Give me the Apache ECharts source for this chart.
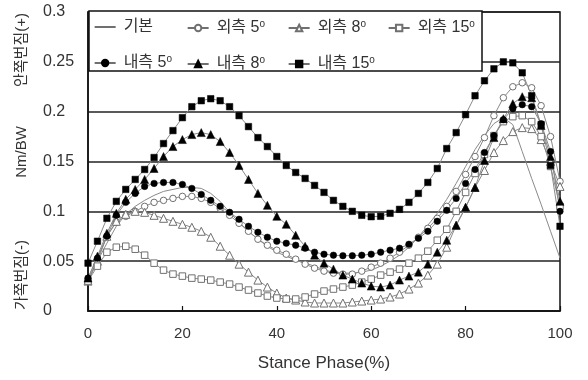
<!DOCTYPE html>
<html>
<head>
<meta charset="utf-8">
<title>Stance Phase</title>
<script src="https://cdn.jsdelivr.net/npm/echarts@6/dist/echarts.min.js"></script>
<style>
  body { margin: 0; background: #fff; }
  #main { width: 588px; height: 380px; }
</style>
</head>
<body>
<div id="main"></div>
<script type="text/javascript">
// stance phase (%) sample positions
var stance = [0, 2, 4, 6, 8, 10, 12, 14, 16, 18, 20, 22, 24, 26, 28, 30, 32, 34, 36, 38, 40,
  42, 44, 46, 48, 50, 52, 54, 56, 58, 60, 62, 64, 66, 68, 70, 72, 74, 76, 78, 80,
  82, 84, 86, 88, 90, 92, 94, 96, 98, 100];

// 기본
var base = [0.030, 0.050, 0.068, 0.085, 0.097, 0.105, 0.111, 0.116, 0.120, 0.122, 0.124,
  0.124, 0.123, 0.118, 0.110, 0.099, 0.089, 0.080, 0.072, 0.065, 0.059,
  0.055, 0.051, 0.048, 0.045, 0.041, 0.039, 0.038, 0.038, 0.039, 0.041,
  0.045, 0.050, 0.056, 0.064, 0.074, 0.086, 0.098, 0.112, 0.128, 0.145,
  0.162, 0.176, 0.188, 0.194, 0.187, 0.160, 0.133, 0.107, 0.080, 0.053];
// 외측 5
var out5 = [0.030, 0.052, 0.075, 0.089, 0.095, 0.100, 0.105, 0.109, 0.111, 0.113, 0.115,
  0.115, 0.113, 0.109, 0.103, 0.096, 0.088, 0.080, 0.072, 0.066, 0.061,
  0.057, 0.052, 0.047, 0.043, 0.040, 0.038, 0.037, 0.037, 0.040, 0.044,
  0.048, 0.053, 0.059, 0.066, 0.074, 0.083, 0.093, 0.105, 0.120, 0.137,
  0.155, 0.174, 0.196, 0.214, 0.225, 0.229, 0.224, 0.206, 0.175, 0.130];
// 외측 8
var out8 = [0.030, 0.050, 0.075, 0.090, 0.097, 0.100, 0.099, 0.096, 0.093, 0.090, 0.087,
  0.084, 0.080, 0.074, 0.065, 0.056, 0.047, 0.039, 0.031, 0.024, 0.018,
  0.013, 0.011, 0.009, 0.008, 0.008, 0.008, 0.008, 0.009, 0.010, 0.011,
  0.012, 0.014, 0.017, 0.022, 0.028, 0.036, 0.047, 0.064, 0.086, 0.104,
  0.124, 0.141, 0.159, 0.171, 0.180, 0.184, 0.183, 0.172, 0.150, 0.125];
// 외측 15
var out15 = [0.030, 0.045, 0.059, 0.064, 0.065, 0.062, 0.056, 0.048, 0.041, 0.037, 0.035,
  0.033, 0.032, 0.031, 0.029, 0.027, 0.024, 0.021, 0.018, 0.015, 0.013,
  0.012, 0.012, 0.014, 0.017, 0.020, 0.022, 0.024, 0.026, 0.029, 0.032,
  0.036, 0.039, 0.042, 0.048, 0.053, 0.060, 0.071, 0.082, 0.100, 0.119,
  0.138, 0.157, 0.176, 0.190, 0.195, 0.196, 0.190, 0.175, 0.145, 0.105];
// 내측 5
var in5 = [0.033, 0.053, 0.075, 0.096, 0.109, 0.118, 0.125, 0.128, 0.129, 0.129, 0.127,
  0.123, 0.117, 0.111, 0.105, 0.099, 0.092, 0.085, 0.079, 0.074, 0.070,
  0.068, 0.066, 0.063, 0.059, 0.057, 0.056, 0.0555, 0.0555, 0.056, 0.057,
  0.059, 0.061, 0.063, 0.067, 0.073, 0.080, 0.090, 0.101, 0.113, 0.128,
  0.142, 0.159, 0.176, 0.192, 0.203, 0.207, 0.205, 0.188, 0.160, 0.100];
// 내측 8
var in8 = [0.033, 0.055, 0.078, 0.098, 0.112, 0.122, 0.132, 0.143, 0.155, 0.165, 0.172,
  0.177, 0.179, 0.177, 0.170, 0.159, 0.146, 0.132, 0.118, 0.106, 0.095,
  0.087, 0.076, 0.065, 0.056, 0.048, 0.042, 0.036, 0.032, 0.028, 0.025,
  0.024, 0.026, 0.031, 0.035, 0.039, 0.047, 0.059, 0.071, 0.086, 0.104,
  0.124, 0.151, 0.174, 0.193, 0.208, 0.215, 0.214, 0.186, 0.155, 0.110];
// 내측 15
var in15 = [0.048, 0.070, 0.093, 0.110, 0.122, 0.132, 0.142, 0.154, 0.168, 0.181, 0.194,
  0.205, 0.211, 0.213, 0.211, 0.205, 0.196, 0.185, 0.174, 0.165, 0.155,
  0.146, 0.139, 0.133, 0.126, 0.119, 0.111, 0.105, 0.100, 0.096, 0.0946,
  0.095, 0.098, 0.102, 0.109, 0.118, 0.129, 0.143, 0.163, 0.179, 0.197,
  0.216, 0.231, 0.243, 0.250, 0.249, 0.239, 0.216, 0.187, 0.146, 0.085];

var xTicks = [0, 20, 40, 60, 80, 100];
var yTicks = [0, 0.05, 0.1, 0.15, 0.2, 0.25, 0.3];

var FONT = '"Liberation Sans", "Noto Sans CJK KR", sans-serif';

function pairs(arr) {
    return stance.map(function (x, i) { return [x, arr[i]]; });
}

function mkSeries(name, arr, symbol, filled) {
    return {
        name: name,
        type: 'line',
        data: pairs(arr),
        symbol: symbol,
        symbolSize: symbol === 'triangle' ? 8 : 6.5,
        showSymbol: symbol !== 'none',
        lineStyle: { color: '#8a8a8a', width: 1 },
        itemStyle: filled
            ? { color: '#000', borderColor: '#000', borderWidth: 0.5 }
            : { color: '#fff', borderColor: '#707070', borderWidth: 1 },
        emphasis: { disabled: true },
        animation: false
    };
}

var legendCommon = {
    orient: 'vertical',
    top: 19,
    padding: 0,
    itemWidth: 21,
    itemHeight: 8,
    itemGap: 19,
    z: 20,
    lineStyle: { color: '#222', width: 1.3 },
    textStyle: {
        fontFamily: FONT,
        fontSize: 16,
        color: '#333',
        padding: [0, 0, 0, 3],
        rich: {
            t: { fontFamily: FONT, fontSize: 16, color: '#333', lineHeight: 18 },
            d: { fontFamily: FONT, fontSize: 10, color: '#333', lineHeight: 10, verticalAlign: 'top' }
        }
    },
    formatter: function (name) {
        if (name === '기본') return '{t|' + name + '}';
        return '{t|' + name + '}{d|o}';
    }
};

function mkLegend(left, names) {
    var l = Object.assign({}, legendCommon);
    l.left = left;
    l.data = names;
    return l;
}

var myChart = echarts.init(document.getElementById('main'));

var option = {
    backgroundColor: '#fff',
    animation: false,
    grid: {
        left: 88, right: 28, top: 12, bottom: 69,
        show: true, borderColor: '#111', borderWidth: 1.5
    },
    xAxis: {
        type: 'value',
        min: xTicks[0], max: xTicks[xTicks.length - 1], interval: 20,
        name: 'Stance Phase(%)',
        nameLocation: 'middle',
        nameGap: 44,
        nameTextStyle: { fontFamily: FONT, fontSize: 17, color: '#333' },
        axisLine: { show: true, lineStyle: { color: '#111', width: 1.5 } },
        axisTick: { show: true, inside: true, length: 5, lineStyle: { color: '#111', width: 1.2 } },
        axisLabel: { margin: 15, fontFamily: FONT, fontSize: 15, color: '#333' },
        splitLine: { show: false }
    },
    yAxis: {
        type: 'value',
        min: yTicks[0], max: yTicks[yTicks.length - 1], interval: 0.05,
        axisLine: { show: true, lineStyle: { color: '#111', width: 1.5 } },
        axisTick: { show: false },
        axisLabel: { margin: 45, align: 'left', fontFamily: FONT, fontSize: 16, color: '#333' },
        splitLine: { show: true, lineStyle: { color: '#222', width: 1.5 } }
    },
    legend: [
        mkLegend(94, [{
            name: '기본',
            itemStyle: { color: 'rgba(0,0,0,0)', borderColor: 'rgba(0,0,0,0)', borderWidth: 0 },
            lineStyle: { color: '#222', width: 1.3 }
        }, '내측 5']),
        mkLegend(187, ['외측 5', '내측 8']),
        mkLegend(288, ['외측 8', '내측 15']),
        mkLegend(388, ['외측 15'])
    ],
    graphic: [
        {
            type: 'rect', z: 10,
            shape: { x: 89, y: 11, width: 393, height: 60 },
            style: { fill: '#fff', stroke: '#111', lineWidth: 1.5 }
        },
        {
            type: 'text', x: 22, y: 50, rotation: Math.PI / 2,
            style: { text: '안쪽번짐(+)', fontFamily: FONT, fontSize: 15, fill: '#333', align: 'center', verticalAlign: 'middle' }
        },
        {
            type: 'text', x: 22, y: 152, rotation: Math.PI / 2,
            style: { text: 'Nm/BW', fontFamily: FONT, fontSize: 15, fill: '#333', align: 'center', verticalAlign: 'middle' }
        },
        {
            type: 'text', x: 22, y: 275, rotation: Math.PI / 2,
            style: { text: '가쪽번짐(-)', fontFamily: FONT, fontSize: 15, fill: '#333', align: 'center', verticalAlign: 'middle' }
        }
    ],
    series: [
        mkSeries('기본', base, 'none', false),
        mkSeries('외측 5', out5, 'circle', false),
        mkSeries('외측 8', out8, 'triangle', false),
        mkSeries('외측 15', out15, 'rect', false),
        mkSeries('내측 5', in5, 'circle', true),
        mkSeries('내측 8', in8, 'triangle', true),
        mkSeries('내측 15', in15, 'rect', true)
    ]
};

myChart.setOption(option);
</script>
</body>
</html>
